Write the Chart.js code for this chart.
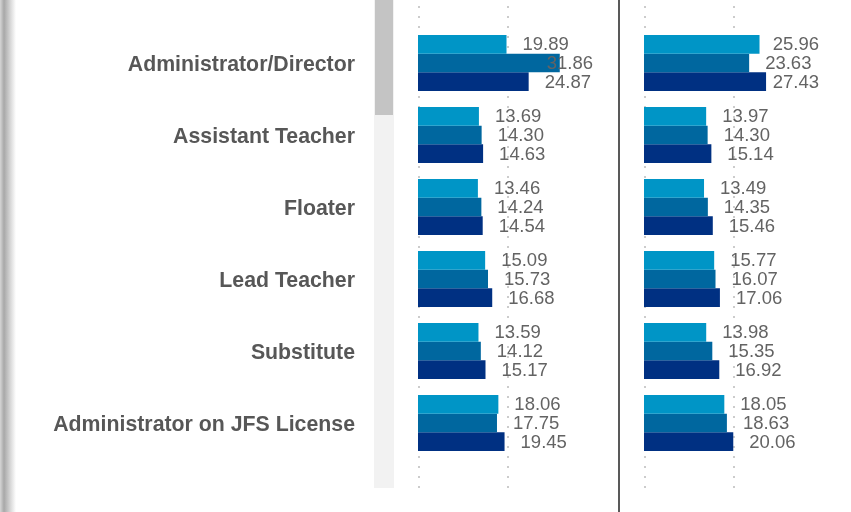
<!DOCTYPE html>
<html>
<head>
<meta charset="utf-8">
<title>Hourly wage by position</title>
<script src="https://cdn.jsdelivr.net/npm/chart.js@4.4.1/dist/chart.umd.min.js"></script>
<style>
    html, body { margin: 0; padding: 0; background: #fff; }
    #page { position: relative; width: 851px; height: 512px; overflow: hidden; }
    #left-shade { position: absolute; left: 0; top: 0; width: 16px; height: 512px;
        background: linear-gradient(to right, #d6d6d6 0px, #a8a8a8 4px, #dcdcdc 11px, #ffffff 16px); }
    #scroll-track { position: absolute; left: 374px; top: 0; width: 20px; height: 488px; background: #f2f2f2; }
    #scroll-thumb { position: absolute; left: 375px; top: 0; width: 18px; height: 115px; background: #c4c4c4; }
    #divider { position: absolute; left: 618px; top: 0; width: 2px; height: 512px; background: #595959; }
    #chart-left { position: absolute; left: 0; top: 0; }
    #chart-right { position: absolute; left: 620px; top: 0; }
</style>
</head>
<body>
<div id="page">
    <div id="left-shade"></div>
    <div id="scroll-track"></div>
    <div id="scroll-thumb"></div>
    <canvas id="chart-left" width="618" height="512"></canvas>
    <div id="divider"></div>
    <canvas id="chart-right" width="231" height="512"></canvas>
</div>

<script>
// Categories and values
const categories = [
    'Administrator/Director',
    'Assistant Teacher',
    'Floater',
    'Lead Teacher',
    'Substitute',
    'Administrator on JFS License'
];

// Left panel, three series (top, middle, bottom bar of each group)
const leftFirst  = [19.89, 13.69, 13.46, 15.09, 13.59, 18.06];
const leftSecond = [31.86, 14.30, 14.24, 15.73, 14.12, 17.75];
const leftThird  = [24.87, 14.63, 14.54, 16.68, 15.17, 19.45];

// Right panel, same three series
const rightFirst  = [25.96, 13.97, 13.49, 15.77, 13.98, 18.05];
const rightSecond = [23.63, 14.30, 14.35, 16.07, 15.35, 18.63];
const rightThird  = [27.43, 15.14, 15.46, 17.06, 16.92, 20.06];

// Dotted grid lines on the value axis, and the axis range
const gridTicks = [0, 20];
const axisMax = 40;

const seriesColors = ['#0095c6', '#00679f', '#003082'];
const fontFamily = "'Liberation Sans', Arial, Helvetica, sans-serif";

// Dotted vertical grid lines that run past the plot area
const dottedGrid = {
    id: 'dottedGrid',
    beforeDatasetsDraw(chart) {
        const ctx = chart.ctx;
        const xScale = chart.scales.x;
        ctx.save();
        ctx.strokeStyle = '#cccccc';
        ctx.lineWidth = 2;
        ctx.setLineDash([2, 8]);
        gridTicks.forEach(function(v) {
            const x = Math.round(xScale.getPixelForValue(v)) + 1;
            ctx.beginPath();
            ctx.moveTo(x, 6);
            ctx.lineTo(x, 489);
            ctx.stroke();
        });
        ctx.restore();
    }
};

// Value labels to the right of each bar, kept inside the plot area
const valueLabels = {
    id: 'valueLabels',
    afterDatasetsDraw(chart) {
        const ctx = chart.ctx;
        const right = chart.chartArea.right - 3;
        ctx.save();
        ctx.font = '18.5px ' + fontFamily;
        ctx.fillStyle = '#636363';
        ctx.textAlign = 'left';
        ctx.textBaseline = 'middle';
        chart.data.datasets.forEach(function(ds, i) {
            chart.getDatasetMeta(i).data.forEach(function(bar, j) {
                const text = ds.data[j].toFixed(2);
                const w = ctx.measureText(text).width;
                let x = bar.x + 16;
                if (x + w > right) {
                    x = right - w;
                }
                ctx.fillText(text, x, bar.y + 1);
            });
        });
        ctx.restore();
    }
};

function makeDatasets(values) {
    return values.map(function(data, i) {
        return {
            label: 'Series ' + (i + 1),
            data: data,
            backgroundColor: seriesColors[i],
            borderWidth: 0,
            barPercentage: 1.0,
            categoryPercentage: 0.778
        };
    });
}

function buildChart(canvasId, values, showLabels, padding) {
    const ctx = document.getElementById(canvasId).getContext('2d');
    const yAxis = {
        display: showLabels,
        // tick marks are not drawn, their length only pushes the labels left
        grid: { display: false, drawTicks: true, tickLength: 63 },
        border: { display: false },
        ticks: {
            padding: 0,
            labelOffset: 2,
            color: '#575757',
            font: { family: fontFamily, size: 21.3, weight: 'bold' }
        }
    };
    if (showLabels) {
        yAxis.afterFit = function(scale) {
            scale.width = 418;
        };
    }
    return new Chart(ctx, {
        type: 'bar',
        data: {
            labels: categories,
            datasets: makeDatasets(values)
        },
        options: {
            indexAxis: 'y',
            responsive: false,
            animation: false,
            events: [],
            layout: { padding: padding },
            plugins: {
                legend: { display: false },
                tooltip: { enabled: false }
            },
            scales: {
                x: {
                    display: false,
                    min: 0,
                    max: axisMax
                },
                y: yAxis
            }
        },
        plugins: [dottedGrid, valueLabels]
    });
}

buildChart('chart-left', [leftFirst, leftSecond, leftThird], true,
    { top: 27, bottom: 53, left: 0, right: 22 });
buildChart('chart-right', [rightFirst, rightSecond, rightThird], false,
    { top: 27, bottom: 53, left: 24, right: 29 });
</script>
</body>
</html>
